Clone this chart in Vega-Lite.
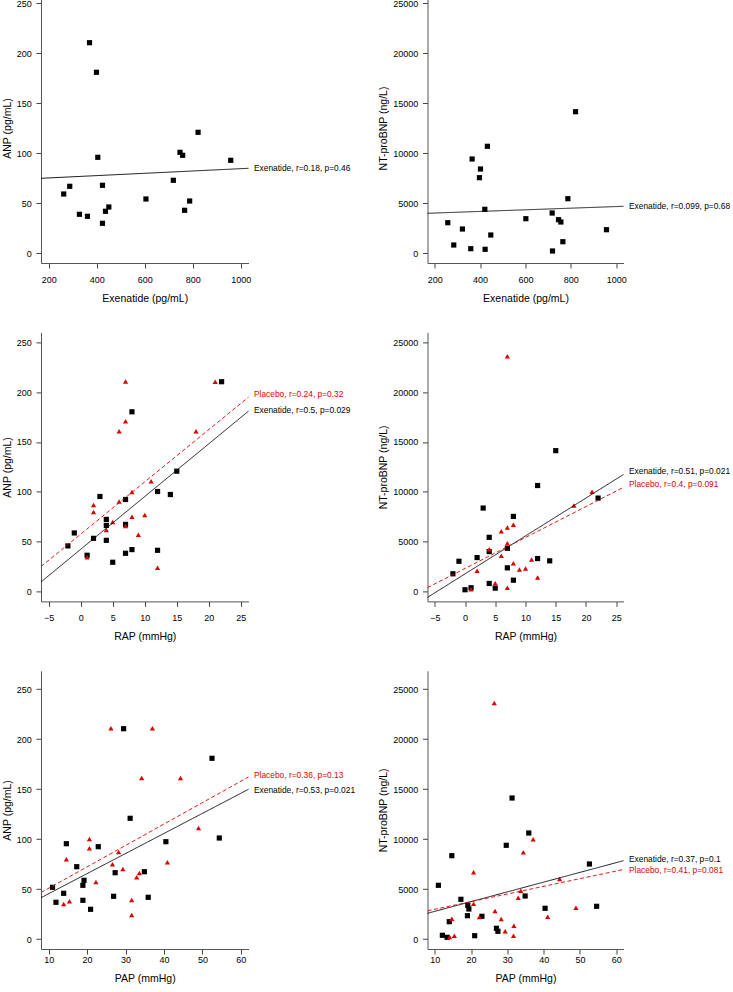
{
"$schema": "https://vega.github.io/schema/vega-lite/v6.json",
"autosize": {"type": "pad"},
"padding": {"left": 2, "top": -7, "right": 0, "bottom": 0},
"background": "white",
"config": {
  "font": "Liberation Sans",
  "view": {"stroke": null},
  "axis": {"domain": true, "domainColor": "#555555", "domainWidth": 1, "grid": false, "tickColor": "#444", "tickSize": 5, "tickWidth": 1, "labelFontSize": 9, "labelColor": "#000", "labelFlush": false, "labelOverlap": false, "titleFontSize": 10.5, "titleFontWeight": "normal", "titleColor": "#000", "format": "d"},
  "axisX": {"labelPadding": 7, "titlePadding": 9},
  "axisY": {"labelPadding": 4.8, "titlePadding": 4}
},
"datasets": {
  "p1": [
    {"g":"Exenatide","x":370,"y":210.3},{"g":"Exenatide","x":399,"y":180.7},{"g":"Exenatide","x":404.5,"y":95.7},{"g":"Exenatide","x":424,"y":67.7},{"g":"Exenatide","x":262.6,"y":59},{"g":"Exenatide","x":287.6,"y":66.7},{"g":"Exenatide","x":328,"y":38.7},{"g":"Exenatide","x":361.4,"y":36.7},{"g":"Exenatide","x":424,"y":29.7},{"g":"Exenatide","x":436.5,"y":41.7},{"g":"Exenatide","x":450.4,"y":46},{"g":"Exenatide","x":605,"y":54},{"g":"Exenatide","x":719,"y":72.7},{"g":"Exenatide","x":746.8,"y":100.7},{"g":"Exenatide","x":757.9,"y":97.7},{"g":"Exenatide","x":766,"y":42.7},{"g":"Exenatide","x":787,"y":52},{"g":"Exenatide","x":822,"y":120.7},{"g":"Exenatide","x":958,"y":92.7}
  ],
  "p2": [
    {"g":"Exenatide","x":820.6,"y":14130},{"g":"Exenatide","x":432,"y":10670},{"g":"Exenatide","x":364.7,"y":9400},{"g":"Exenatide","x":401.5,"y":8400},{"g":"Exenatide","x":397,"y":7530},{"g":"Exenatide","x":786.8,"y":5430},{"g":"Exenatide","x":420.6,"y":4370},{"g":"Exenatide","x":257.4,"y":3030},{"g":"Exenatide","x":322,"y":2400},{"g":"Exenatide","x":447,"y":1800},{"g":"Exenatide","x":283.8,"y":800},{"g":"Exenatide","x":358.8,"y":430},{"g":"Exenatide","x":422,"y":370},{"g":"Exenatide","x":601.5,"y":3430},{"g":"Exenatide","x":717.6,"y":4000},{"g":"Exenatide","x":745.6,"y":3330},{"g":"Exenatide","x":756,"y":3100},{"g":"Exenatide","x":957,"y":2330},{"g":"Exenatide","x":764.7,"y":1130},{"g":"Exenatide","x":719,"y":200}
  ],
  "p3": [
    {"g":"Exenatide","x":8,"y":180.3},{"g":"Exenatide","x":3,"y":95.3},{"g":"Exenatide","x":7,"y":92.3},{"g":"Exenatide","x":12,"y":100.3},{"g":"Exenatide","x":14,"y":97.3},{"g":"Exenatide","x":15,"y":120.7},{"g":"Exenatide","x":-1,"y":58.7},{"g":"Exenatide","x":-2,"y":45.7},{"g":"Exenatide","x":1,"y":36.3},{"g":"Exenatide","x":2,"y":53.3},{"g":"Exenatide","x":4,"y":72.3},{"g":"Exenatide","x":4,"y":66.3},{"g":"Exenatide","x":4,"y":51.3},{"g":"Exenatide","x":5,"y":29.3},{"g":"Exenatide","x":7,"y":67.3},{"g":"Exenatide","x":7,"y":38.3},{"g":"Exenatide","x":8,"y":42},{"g":"Exenatide","x":12,"y":41.3},{"g":"Exenatide","x":22,"y":210.5},
    {"g":"Placebo","x":7,"y":210.7},{"g":"Placebo","x":21,"y":210.5},{"g":"Placebo","x":7,"y":170.7},{"g":"Placebo","x":6,"y":160.7},{"g":"Placebo","x":18,"y":160.7},{"g":"Placebo","x":11,"y":110.7},{"g":"Placebo","x":8,"y":99.7},{"g":"Placebo","x":6,"y":90.3},{"g":"Placebo","x":2,"y":86.7},{"g":"Placebo","x":2,"y":79.7},{"g":"Placebo","x":10,"y":76.7},{"g":"Placebo","x":8,"y":75},{"g":"Placebo","x":5,"y":69.7},{"g":"Placebo","x":4,"y":61.7},{"g":"Placebo","x":7,"y":65.7},{"g":"Placebo","x":9,"y":57},{"g":"Placebo","x":1,"y":34.3},{"g":"Placebo","x":12,"y":23.7}
  ],
  "p4": [
    {"g":"Exenatide","x":15,"y":14130},{"g":"Exenatide","x":12,"y":10630},{"g":"Exenatide","x":3,"y":8370},{"g":"Exenatide","x":8,"y":7530},{"g":"Exenatide","x":22,"y":9370},{"g":"Exenatide","x":4,"y":5430},{"g":"Exenatide","x":4,"y":4000},{"g":"Exenatide","x":7,"y":4330},{"g":"Exenatide","x":2,"y":3400},{"g":"Exenatide","x":-1,"y":3030},{"g":"Exenatide","x":-2,"y":1770},{"g":"Exenatide","x":7,"y":2370},{"g":"Exenatide","x":12,"y":3300},{"g":"Exenatide","x":14,"y":3070},{"g":"Exenatide","x":8,"y":1130},{"g":"Exenatide","x":4,"y":800},{"g":"Exenatide","x":1,"y":370},{"g":"Exenatide","x":0,"y":170},{"g":"Exenatide","x":5,"y":330},
    {"g":"Placebo","x":7,"y":23600},{"g":"Placebo","x":21,"y":10000},{"g":"Placebo","x":18,"y":8630},{"g":"Placebo","x":8,"y":6700},{"g":"Placebo","x":7,"y":6430},{"g":"Placebo","x":6,"y":6030},{"g":"Placebo","x":4,"y":4230},{"g":"Placebo","x":7,"y":4830},{"g":"Placebo","x":6,"y":3570},{"g":"Placebo","x":8,"y":2830},{"g":"Placebo","x":11,"y":3200},{"g":"Placebo","x":2,"y":2070},{"g":"Placebo","x":9,"y":2200},{"g":"Placebo","x":10,"y":2300},{"g":"Placebo","x":12,"y":1400},{"g":"Placebo","x":5,"y":830},{"g":"Placebo","x":7,"y":370},{"g":"Placebo","x":1,"y":230}
  ],
  "p5": [
    {"g":"Exenatide","x":29.5,"y":210.3},{"g":"Exenatide","x":52.5,"y":180.7},{"g":"Exenatide","x":31.2,"y":120.7},{"g":"Exenatide","x":54.4,"y":101},{"g":"Exenatide","x":40.5,"y":97.3},{"g":"Exenatide","x":14.6,"y":95.3},{"g":"Exenatide","x":22.9,"y":92.3},{"g":"Exenatide","x":17.3,"y":72.3},{"g":"Exenatide","x":27.3,"y":66.3},{"g":"Exenatide","x":34.9,"y":67.3},{"g":"Exenatide","x":11,"y":51.7},{"g":"Exenatide","x":13.9,"y":45.7},{"g":"Exenatide","x":18.9,"y":53.7},{"g":"Exenatide","x":19.2,"y":58.7},{"g":"Exenatide","x":11.9,"y":36.7},{"g":"Exenatide","x":18.9,"y":38.7},{"g":"Exenatide","x":20.9,"y":29.7},{"g":"Exenatide","x":26.9,"y":42.7},{"g":"Exenatide","x":35.9,"y":41.7},
    {"g":"Placebo","x":26.2,"y":210.7},{"g":"Placebo","x":37,"y":210.7},{"g":"Placebo","x":34.2,"y":161},{"g":"Placebo","x":44.3,"y":161},{"g":"Placebo","x":49,"y":111},{"g":"Placebo","x":20.6,"y":100},{"g":"Placebo","x":20.6,"y":90.7},{"g":"Placebo","x":14.6,"y":79.7},{"g":"Placebo","x":28.2,"y":87},{"g":"Placebo","x":40.9,"y":76.7},{"g":"Placebo","x":26.6,"y":74.7},{"g":"Placebo","x":29.3,"y":70},{"g":"Placebo","x":33.6,"y":66},{"g":"Placebo","x":32.9,"y":61.7},{"g":"Placebo","x":22.3,"y":57},{"g":"Placebo","x":15.4,"y":37.7},{"g":"Placebo","x":13.9,"y":35},{"g":"Placebo","x":31.6,"y":39},{"g":"Placebo","x":31.6,"y":24}
  ],
  "p6": [
    {"g":"Exenatide","x":31.3,"y":14100},{"g":"Exenatide","x":35.9,"y":10600},{"g":"Exenatide","x":29.7,"y":9370},{"g":"Exenatide","x":14.7,"y":8330},{"g":"Exenatide","x":52.6,"y":7500},{"g":"Exenatide","x":11,"y":5370},{"g":"Exenatide","x":34.9,"y":4300},{"g":"Exenatide","x":17.2,"y":3970},{"g":"Exenatide","x":19.1,"y":3370},{"g":"Exenatide","x":19.4,"y":3000},{"g":"Exenatide","x":40.4,"y":3070},{"g":"Exenatide","x":54.6,"y":3270},{"g":"Exenatide","x":19,"y":2330},{"g":"Exenatide","x":23,"y":2270},{"g":"Exenatide","x":14,"y":1730},{"g":"Exenatide","x":27,"y":1070},{"g":"Exenatide","x":27.4,"y":770},{"g":"Exenatide","x":12.1,"y":370},{"g":"Exenatide","x":13.4,"y":170},{"g":"Exenatide","x":21,"y":330},
    {"g":"Placebo","x":26.4,"y":23600},{"g":"Placebo","x":37.1,"y":9970},{"g":"Placebo","x":34.4,"y":8670},{"g":"Placebo","x":20.7,"y":6670},{"g":"Placebo","x":44.4,"y":6000},{"g":"Placebo","x":33.7,"y":4830},{"g":"Placebo","x":33,"y":4130},{"g":"Placebo","x":20.7,"y":3530},{"g":"Placebo","x":26.6,"y":2800},{"g":"Placebo","x":48.9,"y":3130},{"g":"Placebo","x":41.1,"y":2230},{"g":"Placebo","x":22.3,"y":2200},{"g":"Placebo","x":28.3,"y":2000},{"g":"Placebo","x":14.7,"y":2030},{"g":"Placebo","x":31.8,"y":1330},{"g":"Placebo","x":29.4,"y":770},{"g":"Placebo","x":31.7,"y":330},{"g":"Placebo","x":15.4,"y":330},{"g":"Placebo","x":14.1,"y":200}
  ],
  "lines": [
    {"p":1,"g":"Exenatide","x":168,"y":74.7,"x2":1032,"y2":84.7},
    {"p":2,"g":"Exenatide","x":168,"y":3970,"x2":1032,"y2":4670},
    {"p":3,"g":"Exenatide","x":-6.2,"y":9.5,"x2":26.2,"y2":181},
    {"p":3,"g":"Placebo","x":-6.2,"y":25,"x2":26.2,"y2":195},
    {"p":4,"g":"Exenatide","x":-6.2,"y":-600,"x2":26.2,"y2":11740},
    {"p":4,"g":"Placebo","x":-6.2,"y":380,"x2":26.2,"y2":10450},
    {"p":5,"g":"Exenatide","x":8,"y":41.3,"x2":62,"y2":149.7},
    {"p":5,"g":"Placebo","x":8,"y":46.5,"x2":62,"y2":162},
    {"p":6,"g":"Exenatide","x":8,"y":2570,"x2":62,"y2":7830},
    {"p":6,"g":"Placebo","x":8,"y":2820,"x2":62,"y2":6950}
  ],
  "labels": [
    {"p":1,"g":"Exenatide","x":1032,"y":84.7,"t":"Exenatide, r=0.18, p=0.46"},
    {"p":2,"g":"Exenatide","x":1032,"y":4730,"t":"Exenatide, r=0.099, p=0.68"},
    {"p":3,"g":"Placebo","x":26.2,"y":198,"t":"Placebo, r=0.24, p=0.32"},
    {"p":3,"g":"Exenatide","x":26.2,"y":182.4,"t":"Exenatide, r=0.5, p=0.029"},
    {"p":4,"g":"Exenatide","x":26.2,"y":12070,"t":"Exenatide, r=0.51, p=0.021"},
    {"p":4,"g":"Placebo","x":26.2,"y":10740,"t":"Placebo, r=0.4, p=0.091"},
    {"p":5,"g":"Placebo","x":62,"y":164.3,"t":"Placebo, r=0.36, p=0.13"},
    {"p":5,"g":"Exenatide","x":62,"y":148.7,"t":"Exenatide, r=0.53, p=0.021"},
    {"p":6,"g":"Exenatide","x":62,"y":8000,"t":"Exenatide, r=0.37, p=0.1"},
    {"p":6,"g":"Placebo","x":62,"y":6930,"t":"Placebo, r=0.41, p=0.081"}
  ]
},
"columns": 2,
"align": "each",
"bounds": "flush",
"spacing": {"row": 69.4, "column": 178.5},
"concat": [
  {
    "width": 207.5, "height": 270,
    "encoding": {
      "x": {"field":"x","type":"quantitative","scale":{"domain":[168,1032],"nice":false,"zero":false},"axis":{"values":[200,400,600,800,1000],"title":"Exenatide (pg/mL)"}},
      "y": {"field":"y","type":"quantitative","scale":{"domain":[-10,260],"nice":false,"zero":false},"axis":{"values":[0,50,100,150,200,250],"title":"ANP (pg/mL)"}}
    },
    "layer": [
      {"data":{"name":"p1"},"mark":{"type":"point","filled":true,"opacity":1,"size":27,"strokeWidth":0},"encoding":{"shape":{"field":"g","type":"nominal","scale":{"domain":["Exenatide","Placebo"],"range":["square","triangle-up"]},"legend":null},"color":{"field":"g","type":"nominal","scale":{"domain":["Exenatide","Placebo"],"range":["#000000","#e00000"]},"legend":null}}},
      {"data":{"name":"lines"},"transform":[{"filter":"datum.p == 1"}],"mark":{"type":"rule","strokeWidth":0.9},"encoding":{"x2":{"field":"x2"},"y2":{"field":"y2"},"color":{"field":"g","type":"nominal","scale":{"domain":["Exenatide","Placebo"],"range":["#000000","#e00000"]},"legend":null},"strokeDash":{"field":"g","type":"nominal","scale":{"domain":["Exenatide","Placebo"],"range":[[1,0],[4,2.5]]},"legend":null}}},
      {"data":{"name":"labels"},"transform":[{"filter":"datum.p == 1"}],"mark":{"type":"text","align":"left","baseline":"middle","dx":5.5,"fontSize":8.4},"encoding":{"text":{"field":"t"},"color":{"field":"g","type":"nominal","scale":{"domain":["Exenatide","Placebo"],"range":["#000000","#e00000"]},"legend":null}}}
    ]
  },
  {
    "width": 196, "height": 270,
    "encoding": {
      "x": {"field":"x","type":"quantitative","scale":{"domain":[168,1032],"nice":false,"zero":false},"axis":{"values":[200,400,600,800,1000],"title":"Exenatide (pg/mL)"}},
      "y": {"field":"y","type":"quantitative","scale":{"domain":[-1000,26000],"nice":false,"zero":false},"axis":{"values":[0,5000,10000,15000,20000,25000],"title":"NT-proBNP (ng/L)"}}
    },
    "layer": [
      {"data":{"name":"p2"},"mark":{"type":"point","filled":true,"opacity":1,"size":27,"strokeWidth":0},"encoding":{"shape":{"field":"g","type":"nominal","scale":{"domain":["Exenatide","Placebo"],"range":["square","triangle-up"]},"legend":null},"color":{"field":"g","type":"nominal","scale":{"domain":["Exenatide","Placebo"],"range":["#000000","#e00000"]},"legend":null}}},
      {"data":{"name":"lines"},"transform":[{"filter":"datum.p == 2"}],"mark":{"type":"rule","strokeWidth":0.9},"encoding":{"x2":{"field":"x2"},"y2":{"field":"y2"},"color":{"field":"g","type":"nominal","scale":{"domain":["Exenatide","Placebo"],"range":["#000000","#e00000"]},"legend":null},"strokeDash":{"field":"g","type":"nominal","scale":{"domain":["Exenatide","Placebo"],"range":[[1,0],[4,2.5]]},"legend":null}}},
      {"data":{"name":"labels"},"transform":[{"filter":"datum.p == 2"}],"mark":{"type":"text","align":"left","baseline":"middle","dx":5.5,"fontSize":8.4},"encoding":{"text":{"field":"t"},"color":{"field":"g","type":"nominal","scale":{"domain":["Exenatide","Placebo"],"range":["#000000","#e00000"]},"legend":null}}}
    ]
  },
  {
    "width": 207.5, "height": 269,
    "encoding": {
      "x": {"field":"x","type":"quantitative","scale":{"domain":[-6.2,26.2],"nice":false,"zero":false},"axis":{"values":[-5,0,5,10,15,20,25],"title":"RAP (mmHg)"}},
      "y": {"field":"y","type":"quantitative","scale":{"domain":[-10,260],"nice":false,"zero":false},"axis":{"values":[0,50,100,150,200,250],"title":"ANP (pg/mL)"}}
    },
    "layer": [
      {"data":{"name":"p3"},"mark":{"type":"point","filled":true,"opacity":1,"size":27,"strokeWidth":0},"encoding":{"shape":{"field":"g","type":"nominal","scale":{"domain":["Exenatide","Placebo"],"range":["square","triangle-up"]},"legend":null},"color":{"field":"g","type":"nominal","scale":{"domain":["Exenatide","Placebo"],"range":["#000000","#e00000"]},"legend":null}}},
      {"data":{"name":"lines"},"transform":[{"filter":"datum.p == 3"}],"mark":{"type":"rule","strokeWidth":0.9},"encoding":{"x2":{"field":"x2"},"y2":{"field":"y2"},"color":{"field":"g","type":"nominal","scale":{"domain":["Exenatide","Placebo"],"range":["#000000","#e00000"]},"legend":null},"strokeDash":{"field":"g","type":"nominal","scale":{"domain":["Exenatide","Placebo"],"range":[[1,0],[4,2.5]]},"legend":null}}},
      {"data":{"name":"labels"},"transform":[{"filter":"datum.p == 3"}],"mark":{"type":"text","align":"left","baseline":"middle","dx":5.5,"fontSize":8.4},"encoding":{"text":{"field":"t"},"color":{"field":"g","type":"nominal","scale":{"domain":["Exenatide","Placebo"],"range":["#000000","#e00000"]},"legend":null}}}
    ]
  },
  {
    "width": 196, "height": 269,
    "encoding": {
      "x": {"field":"x","type":"quantitative","scale":{"domain":[-6.2,26.2],"nice":false,"zero":false},"axis":{"values":[-5,0,5,10,15,20,25],"title":"RAP (mmHg)"}},
      "y": {"field":"y","type":"quantitative","scale":{"domain":[-1000,26000],"nice":false,"zero":false},"axis":{"values":[0,5000,10000,15000,20000,25000],"title":"NT-proBNP (ng/L)"}}
    },
    "layer": [
      {"data":{"name":"p4"},"mark":{"type":"point","filled":true,"opacity":1,"size":27,"strokeWidth":0},"encoding":{"shape":{"field":"g","type":"nominal","scale":{"domain":["Exenatide","Placebo"],"range":["square","triangle-up"]},"legend":null},"color":{"field":"g","type":"nominal","scale":{"domain":["Exenatide","Placebo"],"range":["#000000","#e00000"]},"legend":null}}},
      {"data":{"name":"lines"},"transform":[{"filter":"datum.p == 4"}],"mark":{"type":"rule","strokeWidth":0.9},"encoding":{"x2":{"field":"x2"},"y2":{"field":"y2"},"color":{"field":"g","type":"nominal","scale":{"domain":["Exenatide","Placebo"],"range":["#000000","#e00000"]},"legend":null},"strokeDash":{"field":"g","type":"nominal","scale":{"domain":["Exenatide","Placebo"],"range":[[1,0],[4,2.5]]},"legend":null}}},
      {"data":{"name":"labels"},"transform":[{"filter":"datum.p == 4"}],"mark":{"type":"text","align":"left","baseline":"middle","dx":5.5,"fontSize":8.4},"encoding":{"text":{"field":"t"},"color":{"field":"g","type":"nominal","scale":{"domain":["Exenatide","Placebo"],"range":["#000000","#e00000"]},"legend":null}}}
    ]
  },
  {
    "width": 207.5, "height": 278.2,
    "encoding": {
      "x": {"field":"x","type":"quantitative","scale":{"domain":[8,62],"nice":false,"zero":false},"axis":{"values":[10,20,30,40,50,60],"title":"PAP (mmHg)","labelPadding":1}},
      "y": {"field":"y","type":"quantitative","scale":{"domain":[-10,268.2],"nice":false,"zero":false},"axis":{"values":[0,50,100,150,200,250],"title":"ANP (pg/mL)"}}
    },
    "layer": [
      {"data":{"name":"p5"},"mark":{"type":"point","filled":true,"opacity":1,"size":27,"strokeWidth":0},"encoding":{"shape":{"field":"g","type":"nominal","scale":{"domain":["Exenatide","Placebo"],"range":["square","triangle-up"]},"legend":null},"color":{"field":"g","type":"nominal","scale":{"domain":["Exenatide","Placebo"],"range":["#000000","#e00000"]},"legend":null}}},
      {"data":{"name":"lines"},"transform":[{"filter":"datum.p == 5"}],"mark":{"type":"rule","strokeWidth":0.9},"encoding":{"x2":{"field":"x2"},"y2":{"field":"y2"},"color":{"field":"g","type":"nominal","scale":{"domain":["Exenatide","Placebo"],"range":["#000000","#e00000"]},"legend":null},"strokeDash":{"field":"g","type":"nominal","scale":{"domain":["Exenatide","Placebo"],"range":[[1,0],[4,2.5]]},"legend":null}}},
      {"data":{"name":"labels"},"transform":[{"filter":"datum.p == 5"}],"mark":{"type":"text","align":"left","baseline":"middle","dx":5.5,"fontSize":8.4},"encoding":{"text":{"field":"t"},"color":{"field":"g","type":"nominal","scale":{"domain":["Exenatide","Placebo"],"range":["#000000","#e00000"]},"legend":null}}}
    ]
  },
  {
    "width": 196, "height": 278.2,
    "encoding": {
      "x": {"field":"x","type":"quantitative","scale":{"domain":[8,62],"nice":false,"zero":false},"axis":{"values":[10,20,30,40,50,60],"title":"PAP (mmHg)","labelPadding":1}},
      "y": {"field":"y","type":"quantitative","scale":{"domain":[-1000,26820],"nice":false,"zero":false},"axis":{"values":[0,5000,10000,15000,20000,25000],"title":"NT-proBNP (ng/L)"}}
    },
    "layer": [
      {"data":{"name":"p6"},"mark":{"type":"point","filled":true,"opacity":1,"size":27,"strokeWidth":0},"encoding":{"shape":{"field":"g","type":"nominal","scale":{"domain":["Exenatide","Placebo"],"range":["square","triangle-up"]},"legend":null},"color":{"field":"g","type":"nominal","scale":{"domain":["Exenatide","Placebo"],"range":["#000000","#e00000"]},"legend":null}}},
      {"data":{"name":"lines"},"transform":[{"filter":"datum.p == 6"}],"mark":{"type":"rule","strokeWidth":0.9},"encoding":{"x2":{"field":"x2"},"y2":{"field":"y2"},"color":{"field":"g","type":"nominal","scale":{"domain":["Exenatide","Placebo"],"range":["#000000","#e00000"]},"legend":null},"strokeDash":{"field":"g","type":"nominal","scale":{"domain":["Exenatide","Placebo"],"range":[[1,0],[4,2.5]]},"legend":null}}},
      {"data":{"name":"labels"},"transform":[{"filter":"datum.p == 6"}],"mark":{"type":"text","align":"left","baseline":"middle","dx":5.5,"fontSize":8.4},"encoding":{"text":{"field":"t"},"color":{"field":"g","type":"nominal","scale":{"domain":["Exenatide","Placebo"],"range":["#000000","#e00000"]},"legend":null}}}
    ]
  }
]
}
